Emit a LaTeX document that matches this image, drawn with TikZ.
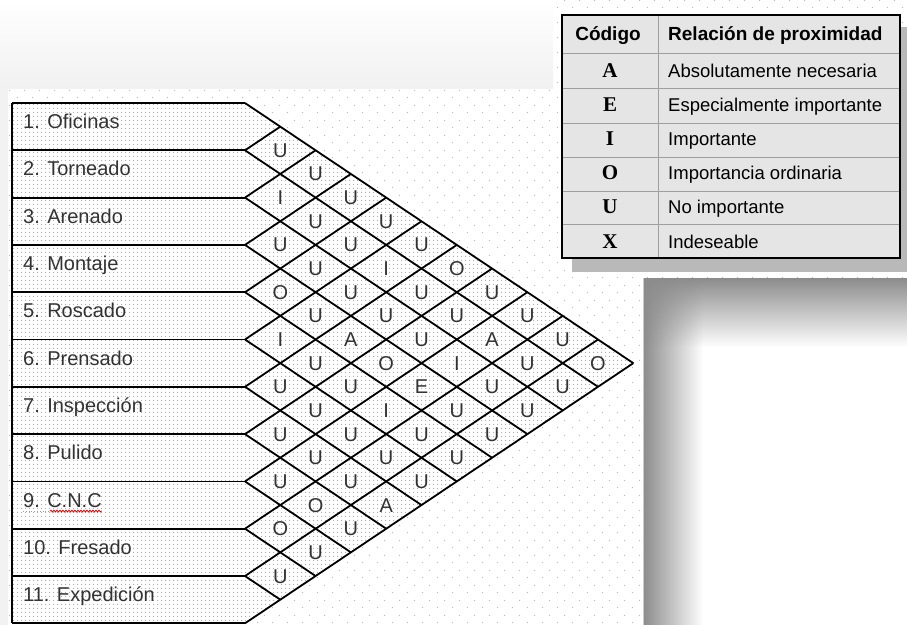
\documentclass[tikz,border=0pt]{standalone}
\usepackage{fontspec}
\setmainfont{Liberation Sans}
\newfontfamily\codefont{Liberation Serif}
\usetikzlibrary{patterns,fadings,decorations.pathmorphing}

% sparse dots of the page, fine dots of the cells
\pgfdeclarepatternformonly{pagedots}{\pgfpointorigin}{\pgfqpoint{15pt}{15pt}}{\pgfqpoint{15pt}{15pt}}{%
  \pgfpathcircle{\pgfqpoint{3.75pt}{3.75pt}}{0.7pt}%
  \pgfpathcircle{\pgfqpoint{11.25pt}{11.25pt}}{0.7pt}%
  \pgfusepath{fill}}
\pgfdeclarepatternformonly{celldots}{\pgfpointorigin}{\pgfqpoint{4pt}{4pt}}{\pgfqpoint{4pt}{4pt}}{%
  \pgfpathcircle{\pgfqpoint{2pt}{2pt}}{0.8pt}%
  \pgfusepath{fill}}

\tikzfading[name=fadeleft, left color=transparent!0, right color=transparent!100]
\tikzfading[name=fadedown, top color=transparent!0, bottom color=transparent!100]

\def\xo{245}
\def\yo{103}
\def\colw{35.3}
\def\rowh{47.3}

\begin{document}
\begin{tikzpicture}[x=1pt, y=-1pt,
    grid/.style={line width=1.8pt, line join=miter},
    dept/.style={anchor=base west, inner sep=0pt, font=\fontsize{20}{20}\selectfont, text=black!80},
    rel/.style={anchor=base, inner sep=0pt, font=\fontsize{20}{20}\selectfont, text=black!80},
    thead/.style={anchor=base, inner sep=0pt, font=\fontsize{19}{19}\selectfont\bfseries},
    tcode/.style={anchor=base, inner sep=0pt, font=\fontsize{21}{21}\selectfont\codefont\bfseries},
    tdesc/.style={anchor=base west, inner sep=0pt, font=\fontsize{18.5}{18.5}\selectfont},
    tline/.style={gray!75, line width=0.8pt}]
    \useasboundingbox (0,0) rectangle (907,625);

    % Page
    \fill[white] (0,0) rectangle (907,625);
    \fill[pattern=pagedots, pattern color=gray!55] (0,0) rectangle (907,625);
    \shade[top color=white, bottom color=gray!11] (0,0) rectangle (553,88);
    \fill[gray!10] (0,88) rectangle (8,625);

    % Window behind, with its shadow
    \fill[white] (643,278) rectangle (907,625);
    \fill[black!45, path fading=fadeleft] (643,278) rectangle (703,625);
    \fill[black!45, path fading=fadedown] (643,278) rectangle (907,347);
    \draw[gray!40] (643,278) -- (643,625);

    % Departments and relation chart
    \fill[white] (12,\yo) -- (\xo,\yo) -- ({\xo+11*\colw},{\yo+5.5*\rowh}) -- (\xo,{\yo+11*\rowh}) -- (12,{\yo+11*\rowh}) -- cycle;
    \fill[pattern=celldots, pattern color=gray!70] (12,\yo) -- (\xo,\yo) -- ({\xo+11*\colw},{\yo+5.5*\rowh}) -- (\xo,{\yo+11*\rowh}) -- (12,{\yo+11*\rowh}) -- cycle;
    \draw[grid] (12,\yo) -- (12,{\yo+11*\rowh});
    \foreach \k in {0,...,11}
        \draw[grid] (12,{\yo+\k*\rowh}) -- (\xo,{\yo+\k*\rowh});
    \foreach \k in {0,...,10}
        \draw[grid] (\xo,{\yo+\k*\rowh}) -- ++({\colw*(11-\k)},{\rowh/2*(11-\k)});
    \foreach \k in {1,...,11}
        \draw[grid] (\xo,{\yo+\k*\rowh}) -- ++({\colw*\k},{-\rowh/2*\k});

    \foreach \lab [count=\k] in {1. Oficinas, 2. Torneado, 3. Arenado, 4. Montaje, 5. Roscado,
        6. Prensado, 7. Inspección, 8. Pulido, 9. C.N.C, 10. Fresado, 11. Expedición}
        \node[dept] (row\k) at (23,{\yo+(\k-0.5)*\rowh+2}) {\lab};

    % spelling marks under C.N.C
    \draw[violet!50, dotted, line width=0.8pt] ([yshift=-4pt]row9.base west) -- ([xshift=27pt,yshift=-4pt]row9.base west);
    \draw[red!85!black, line width=0.8pt, decorate, decoration={snake, amplitude=0.9pt, segment length=3pt}]
        ([xshift=27pt,yshift=-4pt]row9.base west) -- ([yshift=-4pt]row9.base east);

    % Relation codes, row i against row j
    \foreach \lst [count=\i] in {{U,U,U,U,U,O,U,U,U,O},{I,U,U,I,U,U,A,U,U},{U,U,U,U,U,I,U,U},
        {O,U,A,O,E,U,U},{I,U,U,I,U,U},{U,U,U,U,U},{U,U,U,A},{U,O,U},{O,U},{U}}
        \foreach \c [count=\d] in \lst {
            \pgfmathtruncatemacro\j{\i+\d}
            \node[rel] (r\i-\j) at ({\xo+\colw*\d},{\yo+\rowh*(\i+\j-1)/2+7}) {\c};
        }

    % Legend table
    \fill[gray!55] (572,27) rectangle (907,272);
    \fill[gray!20] (562,15) rectangle (900,258);
    \foreach \y in {53,88,123,157,191,224}
        \draw[tline] (562,\y) -- (900,\y);
    \draw[tline] (658,15) -- (658,258);
    \draw[line width=2pt] (562,15) rectangle (900,258);

    \node[thead] (hcode) at (608,40) {Código};
    \node[thead, anchor=base west] (hrel) at (668,40) {Relación de proximidad};
    \foreach \c/\t [count=\n] in {A/Absolutamente necesaria, E/Especialmente importante, I/Importante,
        O/Importancia ordinaria, U/No importante, X/Indeseable} {
        \node[tcode] (code\c) at (610,{53+34.2*(\n-0.5)+7}) {\c};
        \node[tdesc] (desc\c) at (668,{53+34.2*(\n-0.5)+7}) {\t};
    }
\end{tikzpicture}
\end{document}
